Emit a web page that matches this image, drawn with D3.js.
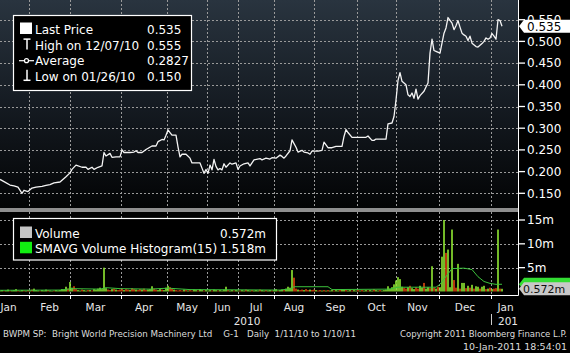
<!DOCTYPE html>
<html><head><meta charset="utf-8">
<script src="https://cdn.jsdelivr.net/npm/d3@7"></script>
<style>
body{margin:0;background:#000;}
svg{display:block;font-family:"DejaVu Sans",Verdana,sans-serif;}
</style></head>
<body><svg id="chart" width="570" height="353"></svg>
<script>
// ---------- DATA ----------
const monthLabels = ["Jan","Feb","Mar","Apr","May","Jun","Jul","Aug","Sep","Oct","Nov","Dec","Jan"];
// trading-slot index at which each month starts (Feb .. Jan 2011)
const monthStarts = [14.5,35,60.5,83.5,103.5,119,137,157,178.5,198,219.5,245.5];
const axisStart = -6, axisEnd = 260;
const yearLabels = [{label:"2010", slot:123.5, anchor:"middle"}, {label:"2011", slot:249, anchor:"start"}];
const priceTicks = [0.15,0.20,0.25,0.30,0.35,0.40,0.45,0.50,0.55];
const volumeTicks = [5,10,15];

// [trading slot, last price]
const price = [
 [0,0.182],[2,0.177],[5,0.169],[7,0.167],[9,0.164],[11,0.150],[12,0.157],[14,0.154],[16,0.162],[18,0.164],
 [21,0.166],[23,0.168],[25,0.170],[27,0.174],[30,0.176],[31,0.180],[33,0.188],[35,0.197],[36,0.205],[38,0.215],
 [41,0.210],[43,0.210],[44,0.205],[46,0.210],[47,0.205],[49,0.210],[51,0.213],[52,0.244],[53,0.236],[55,0.242],
 [56,0.233],[58,0.234],[60,0.234],[61,0.250],[62,0.244],[65,0.244],[67,0.245],[68,0.248],[69,0.244],[71,0.244],
 [73,0.251],[76,0.259],[78,0.259],[79,0.269],[81,0.274],[82,0.273],[83,0.284],[84,0.296],[85,0.290],[86,0.284],
 [88,0.284],[89,0.257],[90,0.234],[91,0.240],[93,0.240],[95,0.231],[96,0.220],[98,0.220],[100,0.220],[101,0.208],
 [102,0.196],[103,0.205],[104,0.196],[105,0.215],[106,0.204],[107,0.228],[108,0.212],[109,0.204],[110,0.207],[111,0.204],
 [112,0.218],[113,0.210],[115,0.220],[116,0.217],[118,0.220],[119,0.205],[120,0.213],[122,0.218],[124,0.220],[125,0.213],
 [127,0.227],[130,0.230],[131,0.227],[133,0.231],[135,0.229],[136,0.232],[138,0.231],[140,0.238],[141,0.235],[142,0.231],
 [143,0.236],[145,0.248],[146,0.273],[148,0.256],[149,0.245],[151,0.249],[152,0.245],[154,0.243],[155,0.240],[156,0.247],
 [159,0.247],[161,0.249],[162,0.268],[164,0.255],[166,0.255],[168,0.258],[171,0.258],[172,0.281],[173,0.297],[174,0.290],
 [176,0.279],[181,0.279],[183,0.279],[184,0.282],[186,0.272],[187,0.272],[188,0.275],[193,0.275],[194,0.310],[196,0.312],
 [197,0.327],[198,0.365],[199,0.410],[200,0.428],[201,0.408],[203,0.400],[204,0.377],[205,0.373],[206,0.381],[207,0.369],
 [208,0.390],[209,0.367],[210,0.375],[212,0.385],[213,0.395],[214,0.404],[215,0.473],[216,0.505],[217,0.479],[218,0.477],
 [220,0.473],[221,0.496],[222,0.519],[223,0.531],[224,0.555],[226,0.542],[227,0.527],[228,0.536],[229,0.548],[230,0.533],
 [231,0.519],[232,0.515],[233,0.512],[234,0.502],[235,0.512],[236,0.496],[238,0.488],[239,0.487],[241,0.495],[242,0.500],
 [243,0.508],[244,0.505],[245,0.508],[246,0.518],[247,0.512],[248,0.505],[249,0.550],[250,0.548],[251,0.535]
];

// daily volume (millions), one per trading slot 0..251
const volume = [
 0.15,0.3,0.1,0.2,0.4,0.1,0.2,0.3,0.5,0.2,0.1,0.3,0.2,0.15,0.3,
 0.2,0.4,0.6,0.3,0.2,0.1,0.3,0.2,0.4,0.3,0.2,0.1,0.2,0.3,0.2,
 0.3,0.5,0.4,1.0,0.6,2.0,0.8,1.1,0.5,0.3,0.2,0.4,0.3,0.2,0.3,
 0.3,0.2,0.5,0.4,0.6,0.8,0.5,5.0,0.7,0.4,0.3,0.5,0.6,0.4,0.3,
 0.4,0.6,0.3,0.5,0.4,0.3,0.7,0.5,0.4,0.3,0.5,0.4,0.6,0.3,0.4,
 0.5,1.1,0.6,0.4,0.3,0.5,0.4,0.3,0.8,1.2,0.9,0.6,0.4,0.3,0.2,
 0.3,0.2,0.4,0.3,0.2,0.3,0.2,0.4,0.3,0.2,0.5,0.3,0.2,0.3,0.2,
 0.3,0.2,0.4,0.3,0.2,0.3,0.2,0.4,1.0,0.3,0.2,0.3,0.2,0.3,0.2,
 0.2,0.3,0.2,0.4,0.3,0.2,0.3,0.2,0.3,0.2,0.4,0.3,0.2,0.3,0.2,
 0.3,0.2,0.3,0.5,0.2,0.3,0.4,0.3,0.6,1.0,0.8,4.5,2.9,0.6,0.4,
 0.3,0.4,0.3,0.5,0.3,0.4,0.3,0.4,0.3,0.2,0.3,0.2,0.3,0.2,0.3,
 0.2,0.3,0.2,0.3,0.2,0.3,0.5,0.4,0.3,0.2,0.3,0.2,0.3,0.2,0.3,
 0.2,0.3,0.2,0.3,0.2,0.3,0.2,0.5,0.3,0.2,0.3,0.2,0.3,0.4,1.1,
 0.6,0.9,1.5,2.3,3.0,2.6,1.0,0.8,0.6,0.9,1.2,0.7,0.5,0.9,0.6,
 1.2,0.8,1.8,0.6,0.9,0.7,5.3,0.8,0.6,1.0,0.9,7.3,15.0,8.1,8.8,
 0.9,13.0,2.4,0.8,5.8,0.6,1.8,1.8,0.7,1.2,0.8,1.4,0.6,1.1,1.0,
 0.6,1.0,1.2,0.5,0.6,0.8,0.5,0.6,0.7,13.0,0.6,0.572
];
// u = up day (green), d = down day (red)
const volumeDir = [
 "uuduuduuuduudud","uduuuduuuduuduu","uuuuduudduuduud","uduuuuuuuddudud",
 "ddudduddudduddu","uudduuduuuddudd","ddududduuduuduu","uduuduuuuduuduu",
 "duuduuduuuduudu","uduuduuduuuuddu","dduddudduddudud","uuduuduuduuduud",
 "uduuduuduuduuuu","uuuuuuudduduudd","uuduudududuuudu","uudduduudududuu","duudududdudu"
].join("").split("");
// 15-day simple moving average of volume [slot, millions]
const smavg = [
 [0,0.25],[30,0.3],[36,0.6],[50,0.5],[53,0.8],[60,0.6],[75,0.5],[84,0.7],[95,0.4],[140,0.3],
 [146,0.6],[147,1.0],[164,1.0],[166,0.4],[195,0.5],[199,0.9],[218,0.9],[220,1.5],[226,4.8],[232,4.9],
 [236,4.6],[239,3.1],[242,2.1],[245,1.7],[248,1.5],[251,1.518]
];

const legendPrice = [
 {icon:"square", label:"Last Price", value:"0.535"},
 {icon:"high", label:"High on 12/07/10", value:"0.555"},
 {icon:"avg", label:"Average", value:"0.2827"},
 {icon:"low", label:"Low on 01/26/10", value:"0.150"}
];
const legendVolume = [
 {color:"#c4c4c4", label:"Volume", value:"0.572m"},
 {color:"#11ee11", label:"SMAVG Volume Histogram(15)", value:"1.518m"}
];
const lastPrice = 0.535, lastVolume = 0.572, lastSmavg = 1.518;
const footerLeft = "BWPM SP:  Bright World Precision Machinery Ltd    G-1   Daily  1/11/10 to 1/10/11";
const footerRight1 = "Copyright 2011 Bloomberg Finance L.P.";
const footerRight2 = "10-Jan-2011 18:54:01";

// ---------- LAYOUT ----------
const svg = d3.select("#chart");
const plotR = 518;
const priceTop = 0, priceBot = 208, volTop = 212, volBot = 295;
const x = d3.scaleLinear().domain([0,259]).range([0,plotR]);
const yP = d3.scaleLinear().domain([0.15,0.55]).range([193.3,19.7]);
const yV = d3.scaleLinear().domain([0,15]).range([291.5,220]);

const defs = svg.append("defs");
const grad = defs.append("linearGradient").attr("id","pg").attr("x1",0).attr("x2",0).attr("y1",0).attr("y2",1);
grad.append("stop").attr("offset","0").attr("stop-color","#29343f");
grad.append("stop").attr("offset","0.5").attr("stop-color","#151b22");
grad.append("stop").attr("offset","1").attr("stop-color","#030405");
defs.append("clipPath").attr("id","cp").append("rect").attr("x",0).attr("y",priceTop).attr("width",plotR).attr("height",priceBot);
defs.append("clipPath").attr("id","cv").append("rect").attr("x",0).attr("y",volTop).attr("width",plotR).attr("height",volBot-volTop);
defs.append("clipPath").attr("id","cx").append("rect").attr("x",0).attr("y",0).attr("width",plotR).attr("height",353);

svg.append("rect").attr("width",570).attr("height",353).attr("fill","#000");
svg.append("rect").attr("x",0).attr("y",priceTop).attr("width",plotR).attr("height",priceBot-priceTop).attr("fill","url(#pg)");
svg.append("rect").attr("x",0).attr("y",priceBot).attr("width",plotR).attr("height",volTop-priceBot).attr("fill","#8e8e8e");

const gridStyle = s => s.attr("stroke","#9a9a9a").attr("stroke-width",1).attr("stroke-dasharray","2,2").attr("shape-rendering","crispEdges");

// grids
svg.append("g").selectAll("line").data(priceTicks).join("line")
  .attr("x1",0).attr("x2",plotR).attr("y1",d=>Math.round(yP(d))+0.5).attr("y2",d=>Math.round(yP(d))+0.5).call(gridStyle);
svg.append("g").selectAll("line").data(volumeTicks).join("line")
  .attr("x1",0).attr("x2",plotR).attr("y1",d=>Math.round(yV(d))+0.5).attr("y2",d=>Math.round(yV(d))+0.5).call(gridStyle);
svg.append("g").selectAll("line").data(monthStarts).join("line")
  .attr("x1",d=>Math.round(x(d))+0.5).attr("x2",d=>Math.round(x(d))+0.5).attr("y1",priceTop).attr("y2",priceBot).call(gridStyle);
svg.append("g").selectAll("line").data(monthStarts).join("line")
  .attr("x1",d=>Math.round(x(d))+0.5).attr("x2",d=>Math.round(x(d))+0.5).attr("y1",volTop).attr("y2",volBot).call(gridStyle);

// price line
svg.append("path").datum(price).attr("clip-path","url(#cp)")
  .attr("d", d3.line().x(d=>x(d[0])).y(d=>yP(d[1])))
  .attr("fill","none").attr("stroke","#f4f4f4").attr("stroke-width",1.3).attr("stroke-linejoin","round");

// volume bars
const vol = volume.map((v,i)=>({i, v, dir: volumeDir[i]}));
svg.append("g").attr("clip-path","url(#cv)").selectAll("rect").data(vol).join("rect")
  .attr("x",d=>x(d.i)-0.8).attr("width",1.6)
  .attr("y",d=>yV(d.v)).attr("height",d=>yV(0)-yV(d.v))
  .attr("fill",d=>d.dir==="u" ? "#8fe832" : "#e2480e");
// smavg line
svg.append("path").datum(smavg).attr("clip-path","url(#cv)")
  .attr("d", d3.line().x(d=>x(d[0])).y(d=>yV(d[1])))
  .attr("fill","none").attr("stroke","#3cc23c").attr("stroke-width",1);

// axes lines
svg.append("line").attr("x1",plotR+0.5).attr("x2",plotR+0.5).attr("y1",0).attr("y2",volBot+0.5).attr("stroke","#fff").attr("stroke-width",1);
svg.append("line").attr("x1",0).attr("x2",plotR+0.5).attr("y1",volBot+0.5).attr("y2",volBot+0.5).attr("stroke","#fff").attr("stroke-width",1);
svg.append("g").selectAll("line").data(monthStarts).join("line")
  .attr("x1",d=>Math.round(x(d))+0.5).attr("x2",d=>Math.round(x(d))+0.5).attr("y1",volBot).attr("y2",volBot+4)
  .attr("stroke","#fff");

// right price axis
const pa = svg.append("g");
pa.selectAll("line").data(priceTicks).join("line")
  .attr("x1",plotR).attr("x2",plotR+7).attr("y1",d=>yP(d)).attr("y2",d=>yP(d)).attr("stroke","#fff").attr("stroke-width",1.3);
pa.selectAll("text").data(priceTicks).join("text")
  .attr("x",527).attr("y",d=>yP(d)).attr("dy","0.36em").attr("fill","#fff").attr("font-size",12)
  .text(d=>d3.format(".3f")(d));
// volume axis
const va = svg.append("g");
va.selectAll("line").data(volumeTicks).join("line")
  .attr("x1",plotR).attr("x2",plotR+7).attr("y1",d=>yV(d)).attr("y2",d=>yV(d)).attr("stroke","#fff").attr("stroke-width",1.3);
va.selectAll("text").data(volumeTicks).join("text")
  .attr("x",527).attr("y",d=>yV(d)).attr("dy","0.36em").attr("fill","#fff").attr("font-size",12)
  .text(d=>d+"m");

// value flags
function flag(yc, h, fill, txt, tcolor, tx, fs){
  const g = svg.append("g");
  g.append("path").attr("d",`M${plotR+1},${yc} L${plotR+6},${yc-h/2} H570 V${yc+h/2} H${plotR+6} Z`).attr("fill",fill);
  if(txt) g.append("text").attr("x",tx).attr("y",yc).attr("dy","0.36em").attr("font-size",fs).attr("fill",tcolor).text(txt);
}
flag(yP(lastPrice), 13, "#ffffff", d3.format(".3f")(lastPrice), "#000", 527, 12);
flag(yV(lastSmavg), 13, "#33dd33", null, "#000", 524, 11);
flag(yV(lastVolume), 13, "#c8c8c8", d3.format(".3f")(lastVolume)+"m", "#111", 523, 11);

// price legend
const lg = svg.append("g");
lg.append("rect").attr("x",13.5).attr("y",15.5).attr("width",178).attr("height",75).attr("fill","#000").attr("stroke","#fff").attr("stroke-width",1.2);
legendPrice.forEach((d,i)=>{
  const by = 34 + i*15.6;
  const ic = lg.append("g").attr("stroke","#fff").attr("fill","#fff");
  if(d.icon==="square") ic.append("rect").attr("x",20).attr("y",by-11.5).attr("width",12).attr("height",11.5).attr("stroke","none");
  if(d.icon==="high"){ ic.append("line").attr("x1",23.5).attr("x2",30.5).attr("y1",by-10.5).attr("y2",by-10.5).attr("stroke-width",1.5);
    ic.append("line").attr("x1",27).attr("x2",27).attr("y1",by-10.5).attr("y2",by).attr("stroke-width",1.5);}
  if(d.icon==="avg"){ ic.append("line").attr("x1",19).attr("x2",34).attr("y1",by-4.5).attr("y2",by-4.5).attr("stroke-width",1.2);
    ic.append("circle").attr("cx",26.5).attr("cy",by-4.5).attr("r",2).attr("fill","#000").attr("stroke-width",1.2);}
  if(d.icon==="low"){ ic.append("line").attr("x1",23.5).attr("x2",30.5).attr("y1",by-0.5).attr("y2",by-0.5).attr("stroke-width",1.5);
    ic.append("line").attr("x1",27).attr("x2",27).attr("y1",by-11).attr("y2",by-0.5).attr("stroke-width",1.5);}
  lg.append("text").attr("x",35).attr("y",by).attr("fill","#fff").attr("font-size",12).text(d.label);
  lg.append("text").attr("x",147).attr("y",by).attr("fill","#fff").attr("font-size",12).text(d.value);
});

// volume legend
const vl = svg.append("g");
vl.append("rect").attr("x",13.5).attr("y",218.5).attr("width",263).attr("height",41.5).attr("fill","#000").attr("stroke","#fff").attr("stroke-width",1.2);
legendVolume.forEach((d,i)=>{
  const by = 238 + i*15.3;
  vl.append("rect").attr("x",20).attr("y",by-11.5).attr("width",12).attr("height",11.5).attr("fill",d.color);
  vl.append("text").attr("x",35).attr("y",by).attr("fill","#fff").attr("font-size",12).text(d.label);
  vl.append("text").attr("x",220).attr("y",by).attr("fill","#fff").attr("font-size",12).text(d.value);
});

// month labels
const bounds = [axisStart, ...monthStarts, axisEnd];
svg.append("g").selectAll("text").data(monthLabels).join("text")
  .attr("x",(d,i)=>x((bounds[i]+bounds[i+1])/2)).attr("y",311).attr("text-anchor","middle")
  .attr("fill","#e6e6e6").attr("font-size",10.5).text(d=>d);
svg.append("g").attr("clip-path","url(#cx)").selectAll("text").data(yearLabels).join("text")
  .attr("x",d=>x(d.slot)).attr("y",325).attr("text-anchor",d=>d.anchor)
  .attr("fill","#e6e6e6").attr("font-size",10.5).text(d=>d.label);
svg.append("line").attr("x1",Math.round(x(monthStarts[monthStarts.length-1]))+0.5).attr("x2",Math.round(x(monthStarts[monthStarts.length-1]))+0.5)
  .attr("y1",314).attr("y2",325).attr("stroke","#ccc");

// footer
svg.append("text").attr("x",3).attr("y",337).attr("fill","#dcdcdc").attr("font-size",9.5)
  .attr("xml:space","preserve").style("white-space","pre").attr("textLength",353).attr("lengthAdjust","spacingAndGlyphs").text(footerLeft);
svg.append("text").attr("x",400).attr("y",337).attr("fill","#dcdcdc").attr("font-size",9.5)
  .attr("textLength",167).attr("lengthAdjust","spacingAndGlyphs").text(footerRight1);
svg.append("text").attr("x",567).attr("y",350).attr("text-anchor","end").attr("fill","#dcdcdc").attr("font-size",9.5).text(footerRight2);
</script>
</body></html>
